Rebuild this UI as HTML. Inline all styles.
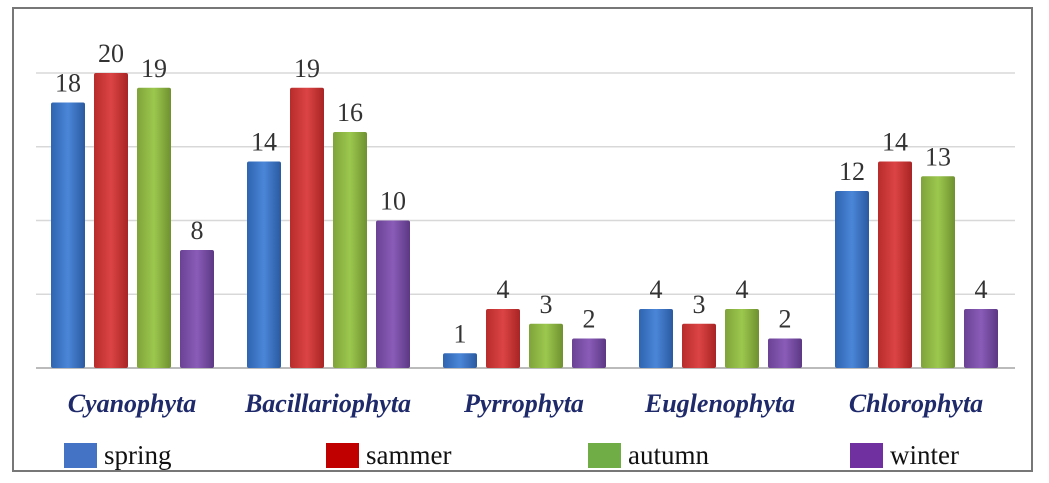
<!DOCTYPE html>
<html><head><meta charset="utf-8"><style>
body{margin:0;background:#fff;}
svg{display:block;font-family:"Liberation Serif",serif;}
</style></head><body>
<svg id="chart" width="1049" height="483">
<defs>
<linearGradient id="g0" x1="0" x2="1"><stop offset="0" stop-color="#2f64b0"/><stop offset="0.5" stop-color="#4a86d8"/><stop offset="1" stop-color="#2a5aa0"/></linearGradient>
<linearGradient id="g1" x1="0" x2="1"><stop offset="0" stop-color="#b82c2c"/><stop offset="0.5" stop-color="#dc4444"/><stop offset="1" stop-color="#a82424"/></linearGradient>
<linearGradient id="g2" x1="0" x2="1"><stop offset="0" stop-color="#7fa33a"/><stop offset="0.5" stop-color="#9cc84e"/><stop offset="1" stop-color="#6f9030"/></linearGradient>
<linearGradient id="g3" x1="0" x2="1"><stop offset="0" stop-color="#6a4294"/><stop offset="0.5" stop-color="#8a5cb8"/><stop offset="1" stop-color="#5c3884"/></linearGradient>
</defs>
<rect x="13" y="8" width="1019" height="463" fill="#fff" stroke="#777" stroke-width="2"/>
<g id="grid"></g><g id="bars"></g><g id="labels"></g><g id="legend"></g>
</svg>
<script>
const categories=["Cyanophyta","Bacillariophyta","Pyrrophyta","Euglenophyta","Chlorophyta"];
const seriesNames=["spring","sammer","autumn","winter"];
const spring=[18,14,1,4,12];
const sammer=[20,19,4,3,14];
const autumn=[19,16,3,4,13];
const winter=[8,10,2,2,4];
const gridTicks=[0,5,10,15,20];
const series=[spring,sammer,autumn,winter];
const NS="http://www.w3.org/2000/svg";
const base=368, unit=14.75;
const y=v=>base-v*unit;
const x=(ci,si)=>51+ci*196+si*43;
const fills=["url(#g0)","url(#g1)","url(#g2)","url(#g3)"];
const legendFills=["#4472c4","#c00000","#70ad47","#7030a0"];
function mk(t,a,p){const e=document.createElementNS(NS,t);for(const k in a)e.setAttribute(k,a[k]);p.appendChild(e);return e;}
const grid=document.getElementById('grid');
gridTicks.forEach(v=>{
 const l=mk('line',{x1:36,x2:1015,y1:y(v),y2:y(v),stroke:v===0?'#bbb':'#d8d8d8','stroke-width':v===0?2:1.5},grid);
 
 
});
const bars=document.getElementById('bars');
series.forEach((s,si)=>s.forEach((v,ci)=>{
 const r=mk('rect',{x:x(ci,si),y:y(v),width:34,height:v*unit,fill:fills[si],rx:2},bars);
 
 
 const t=mk('text',{x:x(ci,si)+17,y:y(v)-11,'text-anchor':'middle','font-size':26,fill:'#333'},bars);
 t.textContent=v;
 
 
}));
const labels=document.getElementById('labels');
categories.forEach((c,ci)=>{
 const t=mk('text',{x:x(ci,0)+81,y:412,'text-anchor':'middle','font-size':26,'font-weight':'bold','font-style':'italic',fill:'#1f2a6b'},labels);
 t.textContent=c;
 
 
});
const legend=document.getElementById('legend');
seriesNames.forEach((n,i)=>{
 const lx=64+i*262;
 const r=mk('rect',{x:lx,y:443,width:33,height:25,fill:legendFills[i]},legend);
 
 
 const t=mk('text',{x:lx+40,y:464,'font-size':27,fill:'#111'},legend);
 t.textContent=n;
 
 
});
</script>
</body></html>
